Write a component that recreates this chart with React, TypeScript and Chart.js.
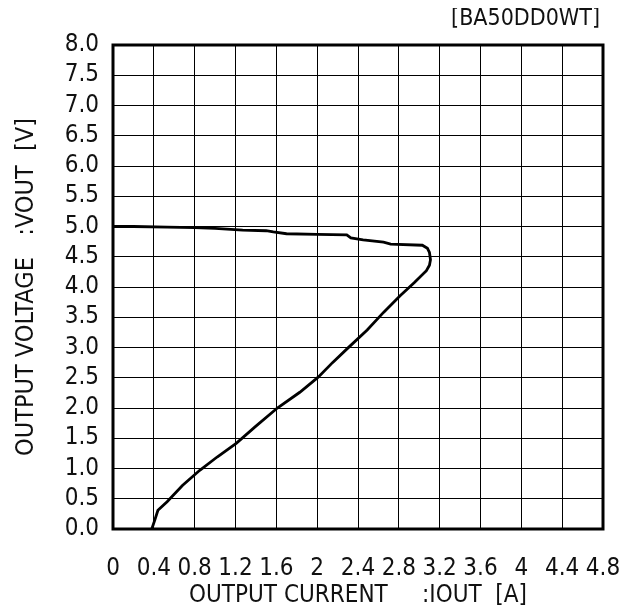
import React, { useEffect, useRef } from "react";
import { Chart, registerables } from "chart.js";

Chart.register(...registerables);

const chartTitle = "[BA50DD0WT]";
const xAxisTitle = "OUTPUT CURRENT     :IOUT  [A]";
const yAxisTitle = "OUTPUT VOLTAGE   :VOUT  [V]";

const xTickValues = [0, 0.4, 0.8, 1.2, 1.6, 2, 2.4, 2.8, 3.2, 3.6, 4, 4.4, 4.8];
const xTickLabels = ["0", "0.4", "0.8", "1.2", "1.6", "2", "2.4", "2.8", "3.2", "3.6", "4", "4.4", "4.8"];
const yTickValues = [0, 0.5, 1, 1.5, 2, 2.5, 3, 3.5, 4, 4.5, 5, 5.5, 6, 6.5, 7, 7.5, 8];
const yTickLabels = ["0.0", "0.5", "1.0", "1.5", "2.0", "2.5", "3.0", "3.5", "4.0", "4.5", "5.0", "5.5", "6.0", "6.5", "7.0", "7.5", "8.0"];

// Output current [A] along the curve (traced from (0, 5 V) round the fold-back tip down to 0 V)
const currentA = [
  0, 0.2, 0.53, 0.8, 1.0, 1.27, 1.5, 1.57, 1.7, 2.0, 2.29, 2.33, 2.45, 2.65, 2.72,
  3.03, 3.08, 3.1, 3.11, 3.1, 3.07, 2.95, 2.81, 2.65, 2.49, 2.3, 2.15, 2.01, 1.83,
  1.61, 1.4, 1.21, 1.02, 0.85, 0.68, 0.53, 0.44, 0.41, 0.38,
];
// Output voltage [V] at each point
const voltageV = [
  5.0, 5.0, 4.99, 4.98, 4.97, 4.94, 4.93, 4.91, 4.88, 4.87, 4.86, 4.81, 4.78, 4.74, 4.71,
  4.69, 4.64, 4.57, 4.45, 4.36, 4.27, 4.07, 3.85, 3.58, 3.29, 2.99, 2.75, 2.51, 2.26,
  2.0, 1.7, 1.42, 1.19, 0.97, 0.72, 0.45, 0.31, 0.15, 0.0,
];

const FONT = "'DejaVu Sans Condensed', 'Liberation Sans', sans-serif";

export default function App() {
  const canvasRef = useRef<HTMLCanvasElement | null>(null);

  useEffect(() => {
    if (!canvasRef.current) return;
    const points = currentA.map((x, i) => ({ x, y: voltageV[i] }));

    const framePlugin = {
      id: "frameAndTitle",
      afterDraw(chart: any) {
        const { ctx, chartArea } = chart;
        ctx.save();
        ctx.strokeStyle = "#000";
        ctx.lineWidth = 3;
        ctx.strokeRect(
          chartArea.left,
          chartArea.top,
          chartArea.right - chartArea.left,
          chartArea.bottom - chartArea.top
        );
        ctx.fillStyle = "#111";
        ctx.font = `23px ${FONT}`;
        ctx.textAlign = "right";
        ctx.textBaseline = "middle";
        ctx.fillText(chartTitle, chartArea.right - 3, 11);
        ctx.restore();
      },
    };

    const chart = new Chart(canvasRef.current, {
      type: "scatter",
      data: {
        datasets: [
          {
            data: points,
            showLine: true,
            borderColor: "#000",
            backgroundColor: "#000",
            borderWidth: 2.8,
            pointRadius: 0,
            tension: 0,
          },
        ],
      },
      options: {
        animation: false,
        responsive: true,
        maintainAspectRatio: false,
        layout: { padding: { top: 37, right: 20, left: 0, bottom: 0 } },
        plugins: {
          legend: { display: false },
          tooltip: { enabled: false },
          title: { display: false },
        },
        scales: {
          x: {
            type: "linear",
            min: 0,
            max: 4.8,
            afterFit: (scale: any) => {
              scale.height = 77;
              scale.paddingLeft = 0;
              scale.paddingRight = 0;
            },
            afterBuildTicks: (scale: any) => {
              scale.ticks = xTickValues.map((v) => ({ value: v }));
            },
            ticks: {
              autoSkip: false,
              maxRotation: 0,
              padding: 28,
              color: "#111",
              font: { family: FONT, size: 24, lineHeight: 1 },
              callback: (_v: any, i: number) => xTickLabels[i],
            },
            grid: { color: "#000", lineWidth: 1, drawTicks: false },
            border: { display: false },
            title: {
              display: true,
              text: xAxisTitle,
              color: "#111",
              font: { family: FONT, size: 24, lineHeight: 0.8 },
              padding: { top: 0, bottom: 1 },
            },
          },
          y: {
            type: "linear",
            min: 0,
            max: 8,
            afterFit: (scale: any) => {
              scale.width = 105;
              scale.paddingTop = 0;
              scale.paddingBottom = 0;
            },
            afterBuildTicks: (scale: any) => {
              scale.ticks = yTickValues.map((v) => ({ value: v }));
            },
            ticks: {
              autoSkip: false,
              padding: 14,
              color: "#111",
              font: { family: FONT, size: 24, lineHeight: 1 },
              callback: (_v: any, i: number) => yTickLabels[i],
            },
            grid: { color: "#000", lineWidth: 1, drawTicks: false },
            border: { display: false },
            title: {
              display: true,
              text: yAxisTitle,
              color: "#111",
              font: { family: FONT, size: 25, lineHeight: 1 },
              padding: { top: 6, bottom: 0 },
            },
          },
        },
      },
      plugins: [framePlugin],
    });

    return () => chart.destroy();
  }, []);

  return (
    <div style={{ position: "relative", width: 615, height: 598 }}>
      <canvas ref={canvasRef} />
    </div>
  );
}
